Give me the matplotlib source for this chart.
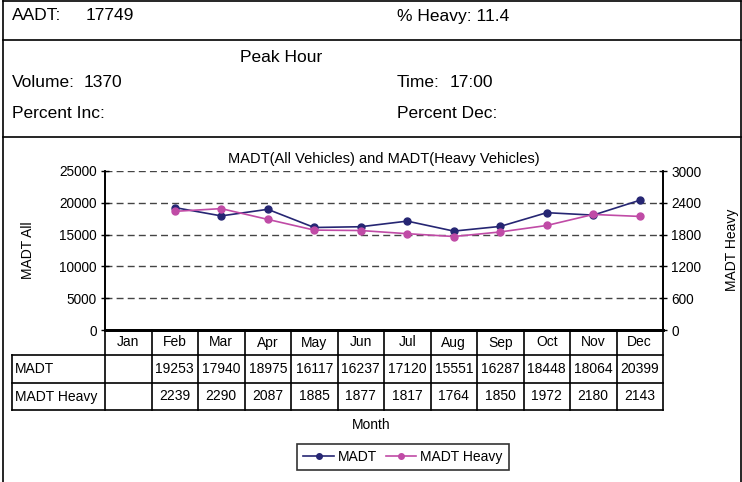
import matplotlib
matplotlib.use("Agg")
import matplotlib.pyplot as plt
from matplotlib.lines import Line2D
import matplotlib.transforms as mtrans

plt.rcParams['font.family'] = ['Liberation Sans', 'DejaVu Sans']

months = ["Jan", "Feb", "Mar", "Apr", "May", "Jun", "Jul", "Aug", "Sep", "Oct", "Nov", "Dec"]
madt = [None, 19253, 17940, 18975, 16117, 16237, 17120, 15551, 16287, 18448, 18064, 20399]
madt_heavy = [None, 2239, 2290, 2087, 1885, 1877, 1817, 1764, 1850, 1972, 2180, 2143]
left_ticks = [0, 5000, 10000, 15000, 20000, 25000]
right_ticks = [0, 600, 1200, 1800, 2400, 3000]

W, H = 742, 482
fig = plt.figure(figsize=(W / 100, H / 100), dpi=100)

def fx(px):
    return px / W

def fy(py):
    return 1 - py / H

# outer frame lines
for (x0, y0, x1, y1) in [(3, 1, 741, 1), (3, 40, 741, 40), (3, 137, 741, 137),
                         (3, 1, 3, 482), (741, 1, 741, 482)]:
    fig.add_artist(Line2D([fx(x0), fx(x1)], [fy(y0), fy(y1)], color='black', lw=1.2))

hdr = dict(fontsize=12.5, va='center', ha='left')
fig.text(fx(12), fy(16), "AADT:", **hdr)
fig.text(fx(86), fy(16), "17749", **hdr)
fig.text(fx(397), fy(16), "% Heavy: 11.4", **hdr)
fig.text(fx(281), fy(58), "Peak Hour", fontsize=12.5, va='center', ha='center')
fig.text(fx(12), fy(82), "Volume:", **hdr)
fig.text(fx(84), fy(82), "1370", **hdr)
fig.text(fx(397), fy(82), "Time:", **hdr)
fig.text(fx(450), fy(82), "17:00", **hdr)
fig.text(fx(12), fy(113), "Percent Inc:", **hdr)
fig.text(fx(397), fy(113), "Percent Dec:", **hdr)

# plot area
L, R, T, B = 105, 663, 171, 330
ax = fig.add_axes([fx(L), fy(B), fx(R) - fx(L), (B - T) / H])
ax2 = ax.twinx()

x = list(range(12))
xs = [i for i in x if madt[i] is not None]
c1 = '#262673'
c2 = '#C04BA6'
ax.set_xlim(-0.5, 11.5)
ax.set_ylim(0, 25000)
ax2.set_ylim(0, 3000)
ax.set_yticks(left_ticks)
ax2.set_yticks(right_ticks)
ax.set_xticks([])
for a in (ax, ax2):
    a.tick_params(axis='y', labelsize=9.8, length=6, width=1, direction='inout', pad=3)
    a.spines['top'].set_visible(False)
    a.spines['left'].set_linewidth(1.2)
    a.spines['right'].set_linewidth(1.2)
    a.spines['bottom'].set_linewidth(2)
ax.grid(axis='y', linestyle=(0, (5, 3)), color='#444444', lw=1)
ax.set_axisbelow(True)

ax.plot(xs, [madt[i] for i in xs], color=c1, marker='o', ms=5, lw=1.2, zorder=3)
ax2.plot(xs, [madt_heavy[i] for i in xs], color=c2, marker='o', ms=5, lw=1.2, zorder=3)

ax.set_title("MADT(All Vehicles) and MADT(Heavy Vehicles)", fontsize=10.5, pad=6)
fig.text(fx(28), fy(250), "MADT All", rotation=90, fontsize=10, va='center', ha='center')
fig.text(fx(732), fy(250), "MADT Heavy", rotation=90, fontsize=10, va='center', ha='center')

# data table below the axes
tr = mtrans.blended_transform_factory(ax.transData, ax.transAxes)
ph = B - T

def ya(py):
    return -(py - B) / ph

r0, r1, r2, r3 = B, 355, 383, 410
lx = -2.5
kw = dict(transform=tr, color='black', lw=1.2, clip_on=False)
ax.add_line(Line2D([lx, 11.5], [ya(r1), ya(r1)], **kw))
ax.add_line(Line2D([lx, 11.5], [ya(r2), ya(r2)], **kw))
ax.add_line(Line2D([lx, 11.5], [ya(r3), ya(r3)], **kw))
ax.add_line(Line2D([lx, lx], [ya(r1), ya(r3)], **kw))
for i in range(13):
    xe = i - 0.5
    ax.add_line(Line2D([xe, xe], [ya(r0), ya(r3)], **kw))

tfs = 10
for i, m in enumerate(months):
    ax.text(i, ya((r0 + r1) / 2), m, transform=tr, ha='center', va='center', fontsize=tfs)
    if madt[i] is not None:
        ax.text(i, ya((r1 + r2) / 2), str(madt[i]), transform=tr, ha='center', va='center', fontsize=tfs)
    if madt_heavy[i] is not None:
        ax.text(i, ya((r2 + r3) / 2), str(madt_heavy[i]), transform=tr, ha='center', va='center', fontsize=tfs)
ax.text(lx + 0.06, ya((r1 + r2) / 2), "MADT", transform=tr, ha='left', va='center', fontsize=tfs)
ax.text(lx + 0.06, ya((r2 + r3) / 2), "MADT Heavy", transform=tr, ha='left', va='center', fontsize=tfs)

fig.text(fx(371), fy(425), "Month", fontsize=10, ha='center', va='center')

handles = [Line2D([], [], color=c1, marker='o', ms=4, lw=1.2),
           Line2D([], [], color=c2, marker='o', ms=4, lw=1.2)]
leg = fig.legend(handles, ["MADT", "MADT Heavy"], loc='center', bbox_to_anchor=(fx(403), fy(457)),
                 ncol=2, fontsize=10, frameon=True, fancybox=False, edgecolor='black',
                 handlelength=2.2, handletextpad=0.3, columnspacing=0.6, borderpad=0.45)
leg.get_frame().set_linewidth(1.2)

fig.savefig("out.png", dpi=100)
